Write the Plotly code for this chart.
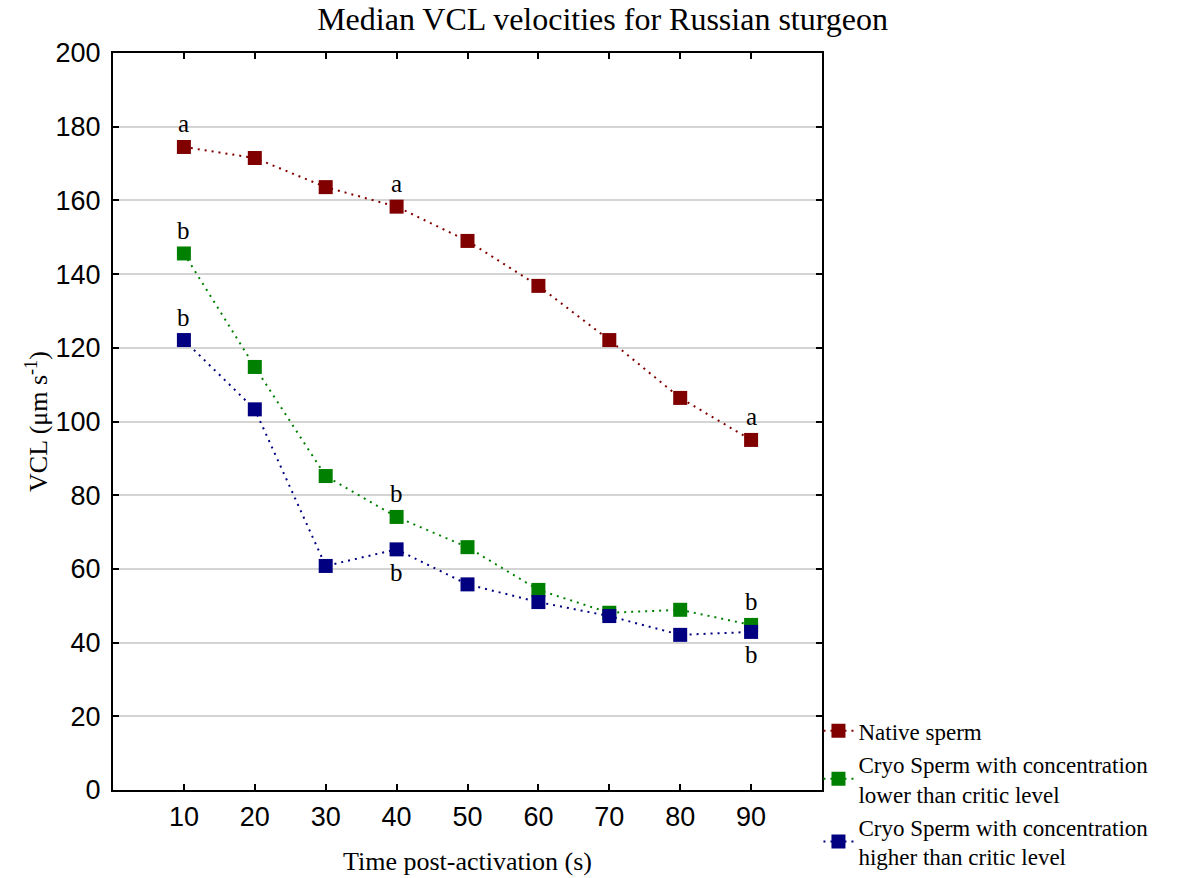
import plotly.graph_objects as go

times = [10, 20, 30, 40, 50, 60, 70, 80, 90]
native = [174.5, 171.5, 163.6, 158.3, 149.0, 136.8, 122.1, 106.4, 95.0]
cryo_low = [145.6, 114.8, 85.2, 74.1, 65.9, 54.3, 48.1, 48.9, 44.8]
cryo_high = [122.1, 103.3, 60.8, 65.3, 55.8, 51.0, 47.2, 42.1, 42.9]

names = ["Native sperm",
         "Cryo Sperm with concentration<br>lower than critic level",
         "Cryo Sperm with concentration<br>higher than critic level"]
colors = ["#800000", "#008000", "#000080"]

# letters: (series index, time, letter, above?)
letters = [
    (0, 10, "a", True), (0, 40, "a", True), (0, 90, "a", True),
    (1, 10, "b", True), (1, 40, "b", True), (1, 90, "b", True),
    (2, 10, "b", True), (2, 40, "b", False), (2, 90, "b", False),
]

series = [native, cryo_low, cryo_high]
fig = go.Figure()
for s, n, c in zip(series, names, colors):
    fig.add_trace(go.Scatter(
        x=times, y=s, name=n, mode="lines+markers",
        line=dict(color=c, width=2, dash="2px,5px"),
        marker=dict(symbol="square", size=14, color=c),
    ))

for si, t, lt, above in letters:
    yv = series[si][times.index(t)]
    fig.add_annotation(x=t, y=yv, text=lt, showarrow=False,
                       yshift=23 if above else -23,
                       font=dict(family="Liberation Serif", size=25, color="black"))

# x-axis title
fig.add_annotation(text="Time post-activation (s)", xref="paper", x=0.5, xanchor="center",
                   yref="paper", y=-0.097, yanchor="middle", showarrow=False,
                   font=dict(family="Liberation Serif", size=26, color="black"))

axis_common = dict(showline=True, linecolor="black", linewidth=2, mirror="ticks",
                   ticks="inside", ticklen=6, tickcolor="black", tickwidth=1.5,
                   tickfont=dict(family="Liberation Sans", size=27, color="black"),
                   zeroline=False)

fig.update_layout(
    width=1198, height=878,
    paper_bgcolor="white", plot_bgcolor="white",
    margin=dict(l=113, r=376, t=53, b=88, autoexpand=False),
    title=dict(text="Median VCL velocities for Russian sturgeon", x=0.503, xanchor="center",
               xref="container", yref="container", y=0.979, yanchor="middle",
               font=dict(family="Liberation Serif", size=32, color="black")),
    xaxis=dict(range=[0, 100], tickvals=times, showgrid=False, ticklabelstandoff=2,
               **axis_common),
    yaxis=dict(range=[0, 200], dtick=20, showgrid=True, gridcolor="#d4d4d4", gridwidth=1.5,
               ticklabelstandoff=5,
               title=dict(text="VCL (μm s<sup>-1</sup>)", standoff=0,
                          font=dict(family="Liberation Serif", size=26, color="black")),
               **axis_common),
    legend=dict(x=0.995, xanchor="left", yref="container", y=0.192, yanchor="top",
                font=dict(family="Liberation Serif", size=23, color="black"),
                bgcolor="rgba(0,0,0,0)", itemwidth=30, tracegroupgap=0),
    showlegend=True,
)

fig.write_html("out.html", config={"displayModeBar": False})
with open("out.html", "r", encoding="utf-8") as f:
    html = f.read()
html = html.replace("<head>", "<head><style>html,body{margin:0;padding:0;}</style>", 1)
with open("out.html", "w", encoding="utf-8") as f:
    f.write(html)
